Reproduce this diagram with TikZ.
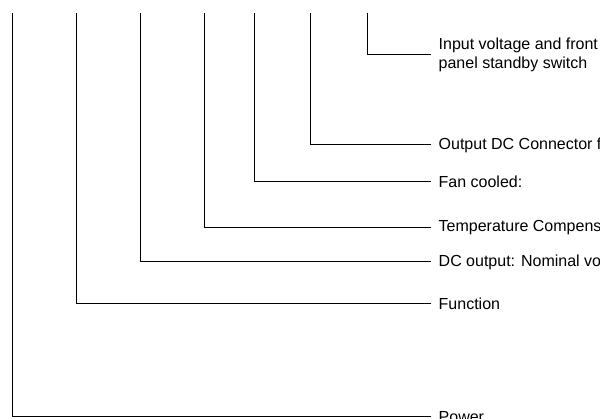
\documentclass[tikz,border=0pt]{standalone}
\usepackage{fontspec}
\setmainfont{Liberation Sans}
\begin{document}
\begin{tikzpicture}[x=1pt,y=-1pt,
  lead/.style={draw=black,line width=1pt},
  callout/.style={anchor=west,align=left,inner xsep=7.5pt,inner ysep=0pt,
    font=\fontsize{16}{19}\selectfont}]
\useasboundingbox (0,0) rectangle (600,419);
% labels on the right
\node[callout] (input) at (431,55) {Input voltage and front\\panel standby switch};
\node[callout] (outdc) at (431,145) {Output DC Connector f};
\node[callout] (fan)   at (431,182) {Fan cooled:};
\node[callout] (temp)  at (431,228) {Temperature Compens};
\node[callout] (dcout) at (431,262) {DC output: Nominal vo};
\node[callout] (func)  at (431,304) {Function};
\node[callout] (power) at (431,417) {Power};
% upper ends of the leader lines
\coordinate (tpower) at (12,13);
\coordinate (tfunc)  at (76,13);
\coordinate (tdcout) at (140,13);
\coordinate (ttemp)  at (204.5,13);
\coordinate (tfan)   at (254,13);
\coordinate (toutdc) at (310.5,13);
\coordinate (tinput) at (367,13);
% leader lines
\draw[lead] (tpower) |- (power.west);
\draw[lead] (tfunc)  |- (func.west);
\draw[lead] (tdcout) |- (dcout.west);
\draw[lead] (ttemp)  |- (temp.west);
\draw[lead] (tfan)   |- (fan.west);
\draw[lead] (toutdc) |- (outdc.west);
\draw[lead] (tinput) |- (input.west);
\end{tikzpicture}
\end{document}
